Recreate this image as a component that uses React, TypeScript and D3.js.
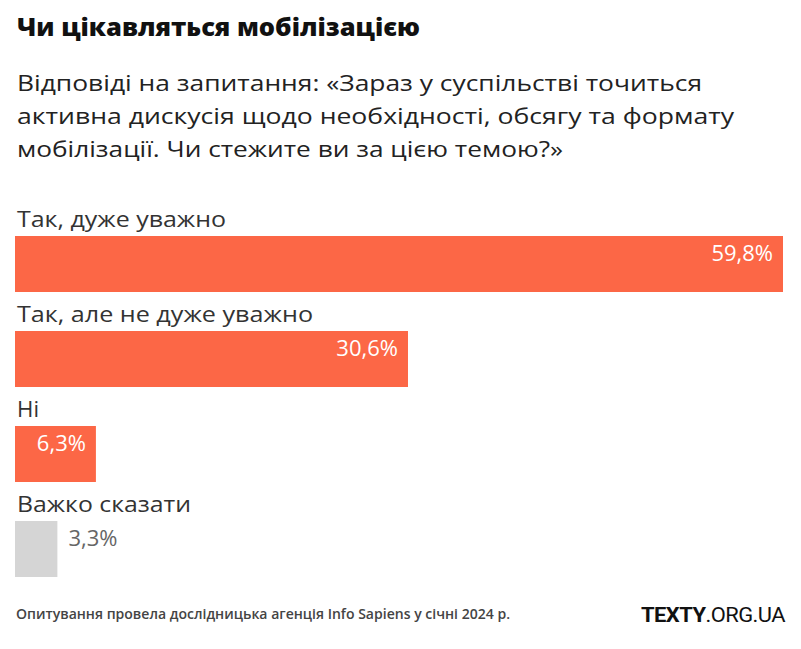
import React from "react";
import * as d3 from "d3";

const categories = ["Так, дуже уважно", "Так, але не дуже уважно", "Ні", "Важко сказати"];
const values = [59.8, 30.6, 6.3, 3.3];
const barColors = ["#fc6746", "#fc6746", "#fc6746", "#d5d5d5"];
const title = "Чи цікавляться мобілізацією";
const subtitleLines = [
  "Відповіді на запитання: «Зараз у суспільстві точиться",
  "активна дискусія щодо необхідності, обсягу та формату",
  "мобілізації. Чи стежите ви за цією темою?»",
];
const footnote = "Опитування провела дослідницька агенція Info Sapiens у січні 2024 р.";

const W = 801;
const H = 649;
const FONT = "'Open Sans', Lato, sans-serif";

// measured text widths (layout only)
const subtitleWidths = [685, 717, 546];
const labelWidths = [209, 296, 22, 174];

export default function App() {
  const x = d3.scaleLinear().domain([0, d3.max(values) as number]).range([15, 783]);
  const y = d3.scaleLinear().domain([0, categories.length - 1]).range([236, 521]);
  const barH = 56;
  const fmt = (v: number) => v.toFixed(1).replace(".", ",") + "%";

  return (
    <svg width={W} height={H} style={{ position: "absolute", left: 0, top: 0, background: "#fff" }}>
      <text x={17} y={36} fontFamily={FONT} fontWeight={800} fontSize={24} fill="#111"
        textLength={403} lengthAdjust="spacingAndGlyphs">{title}</text>
      {subtitleLines.map((l, i) => (
        <text key={i} x={17} y={91 + i * 33} fontFamily={FONT} fontSize={22} fill="#222"
          textLength={subtitleWidths[i]} lengthAdjust="spacingAndGlyphs">{l}</text>
      ))}
      {categories.map((c, i) => {
        const top = y(i);
        const w = x(values[i]) - x(0);
        const inside = w > 60;
        return (
          <g key={c}>
            <text x={17} y={top - 9} fontFamily={FONT} fontSize={22} fill="#333"
              textLength={labelWidths[i]} lengthAdjust="spacingAndGlyphs">{c}</text>
            <rect x={x(0)} y={top} width={w} height={barH} fill={barColors[i]} />
            <text
              x={inside ? x(values[i]) - 10 : x(values[i]) + 11}
              y={top + 25}
              textAnchor={inside ? "end" : "start"}
              fontFamily={FONT}
              fontSize={22}
              fill={inside ? "#fff" : "#666"}
            >
              {fmt(values[i])}
            </text>
          </g>
        );
      })}
      <text x={16} y={619} fontFamily={FONT} fontSize={14} fontWeight={600} fill="#444"
        textLength={494} lengthAdjust="spacingAndGlyphs">{footnote}</text>
      <text x={641} y={622} fontFamily="'Liberation Sans Narrow', Roboto, sans-serif" fontSize={20} fill="#111"
        textLength={144} lengthAdjust="spacingAndGlyphs" letterSpacing={-0.5}>
        <tspan fontWeight={700}>TEXTY</tspan><tspan>.ORG.UA</tspan>
      </text>
    </svg>
  );
}
